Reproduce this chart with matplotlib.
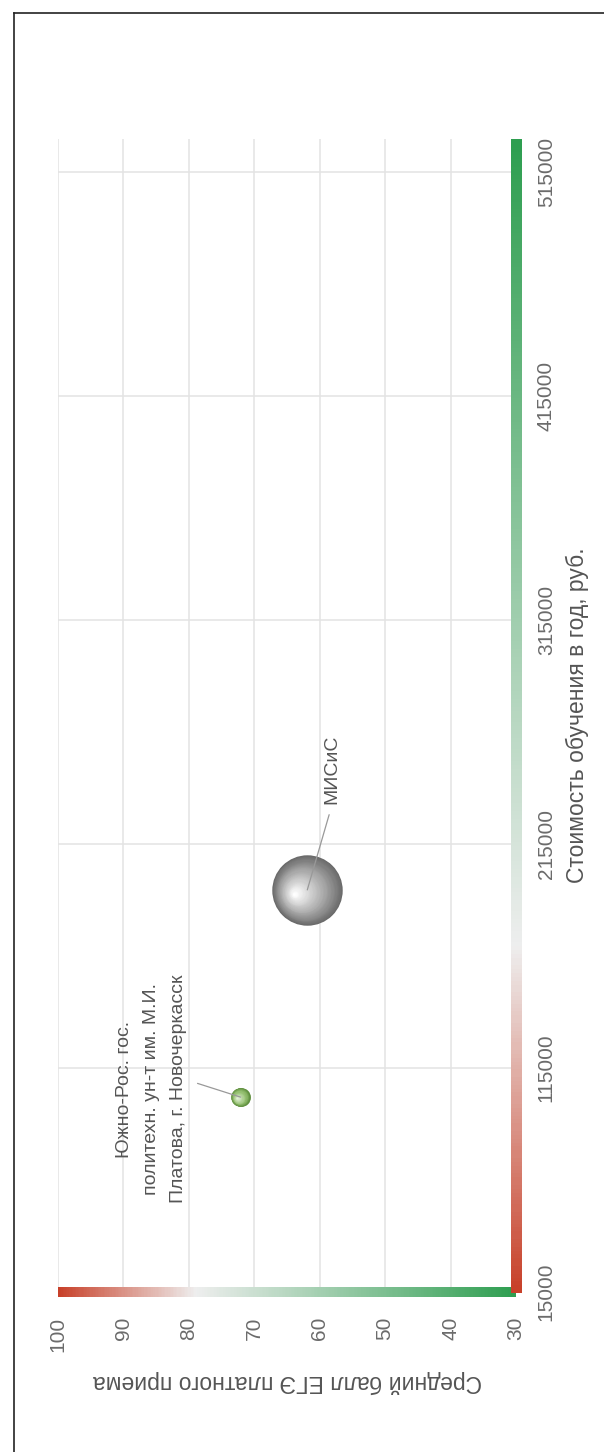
import numpy as np
import matplotlib
matplotlib.use("Agg")
import matplotlib.pyplot as plt
from matplotlib.colors import LinearSegmentedColormap
from matplotlib.collections import LineCollection
from matplotlib.transforms import ScaledTranslation
from matplotlib.lines import Line2D

plt.rcParams['font.family'] = ['Liberation Sans', 'DejaVu Sans']

# data
names = ["Южно-Рос. гос.\nполитехн. ун-т им. М.И.\nПлатова, г. Новочеркасск", "МИСиС"]
cost = [102000, 194500]
score = [72.1, 61.9]
bubble_value = [9, 125]

score_ticks = [100, 90, 80, 70, 60, 50, 40, 30]
cost_ticks = [15000, 115000, 215000, 315000, 415000, 515000]

x_title = "Стоимость обучения в год, руб."
y_title = "Средний балл ЕГЭ платного приема"

# styles
sphere_colors = [("#5f8f3e", "#94c070", "#e4f2d8"),
                 ("#6a6a6a", "#a2a2a2", "#ffffff")]
label_offsets = [(-89, 8), (25, 86)]
grad_cmap = LinearSegmentedColormap.from_list(
    "rw_g", [(0.0, "#c8412a"), (0.3, "#eeeeee"), (1.0, "#2e9e50")])
tick_color = "#6b6b6b"
text_color = "#555555"

W, H = 604, 1452
fig = plt.figure(figsize=(W / 100, H / 100), dpi=100)
ax = fig.add_axes([58 / W, 1 - 1292 / H, 458 / W, 1153 / H])

ax.set_xlim(100, 30)
ax.set_ylim(15000, 529700)
for s in ax.spines.values():
    s.set_visible(False)

ax.set_xticks(score_ticks)
ax.set_yticks(cost_ticks)
ax.yaxis.tick_right()
ax.yaxis.set_label_position('right')
ax.tick_params(axis='x', length=0, pad=18, labelsize=15, labelcolor=tick_color,
               labelrotation=90)
ax.tick_params(axis='y', length=0, pad=15, labelsize=15, labelcolor=tick_color,
               labelrotation=90)
for lab in ax.get_yticklabels():
    lab.set_va('center')
ax.grid(True, color="#e3e3e3", lw=1.1)
ax.set_axisbelow(True)

ax.set_xlabel(y_title, fontsize=16.5, color=text_color, rotation=180, labelpad=13)
ax.set_ylabel(x_title, fontsize=16.5, color=text_color, rotation=90, labelpad=7)

# gradient axis lines
n = 300
xs = np.linspace(100, 30, n)
segs = [[(xs[i], 15000), (xs[i + 1], 15000)] for i in range(n - 1)]
lc = LineCollection(segs, cmap=grad_cmap, linewidths=7.2, clip_on=False,
                    capstyle='butt', antialiaseds=False, zorder=2)
lc.set_array(np.linspace(0, 1, n - 1))
ax.add_collection(lc)

ys = np.linspace(15000, 529700, n)
segs = [[(30, ys[i]), (30, ys[i + 1])] for i in range(n - 1)]
lc = LineCollection(segs, cmap=grad_cmap, linewidths=7.9, clip_on=False,
                    capstyle='butt', antialiaseds=False, zorder=2)
lc.set_array(np.linspace(0, 1, n - 1))
ax.add_collection(lc)


def sphere(x, y, r_px, cols, steps=45):
    cmap = LinearSegmentedColormap.from_list(
        "sph", [(0.0, cols[0]), (0.35, cols[1]), (1.0, cols[2])])
    hx, hy = -0.37 * r_px, -0.11 * r_px
    for i in range(steps):
        t = i / (steps - 1)
        rr = r_px * (1 - 0.96 * t)
        tr = ax.transData + ScaledTranslation(hx * t / 100, hy * t / 100,
                                              fig.dpi_scale_trans)
        ax.scatter([x], [y], s=(2 * rr * 0.72) ** 2, color=cmap(t),
                   transform=tr, lw=0, zorder=3, clip_on=False)


for i in range(len(names)):
    r = 3.15 * np.sqrt(bubble_value[i])
    sphere(score[i], cost[i], r, sphere_colors[i])

# labels
ax.annotate(names[0], xy=(score[0], cost[0]), xytext=label_offsets[0],
            textcoords='offset pixels', rotation=90, ha='center', va='center',
            multialignment='center', linespacing=1.75, fontsize=14,
            color=text_color, zorder=5,
            arrowprops=dict(arrowstyle='-', color='#999999', lw=0.9,
                            shrinkA=6, shrinkB=0, relpos=(1.0, 0.54)))
ax.annotate(names[1], xy=(score[1], cost[1]), xytext=label_offsets[1],
            textcoords='offset pixels', rotation=90, ha='center', va='bottom',
            fontsize=14, color=text_color, zorder=5,
            arrowprops=dict(arrowstyle='-', color='#999999', lw=0.9,
                            shrinkA=6, shrinkB=0, relpos=(0.5, 0.0)))

# outer frame (partly off canvas)
fx, fy = 14 / W, 1 - 13 / H
fig.add_artist(Line2D([fx, 1.01], [fy, fy], color="#222222", lw=1.2))
fig.add_artist(Line2D([fx, fx], [-0.01, fy], color="#222222", lw=1.2))

fig.savefig("out.png", dpi=100)
